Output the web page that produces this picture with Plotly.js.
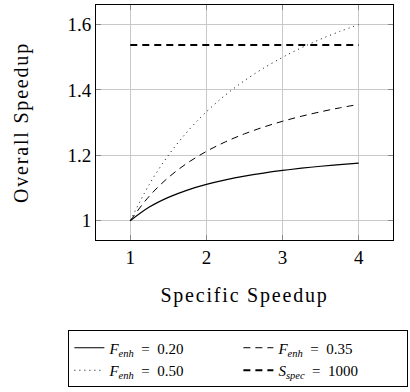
<!DOCTYPE html>
<html><head><meta charset="utf-8">
<script src="https://cdn.plot.ly/plotly-3.0.1.min.js"></script>
<style>html,body{margin:0;padding:0;background:#fff}#chart{width:410px;height:392px}
#chart .xtitle, #chart .ytitle {letter-spacing: 1.8px}</style>
</head><body><div id="chart"></div>
<script>
const specificSpeedup = [1, 1.25, 1.5, 1.75, 2, 2.25, 2.5, 2.75, 3, 3.25, 3.5, 3.75, 4];
const overallF020 = [1, 1.0417, 1.0714, 1.0938, 1.1111, 1.125, 1.1364, 1.1458, 1.1538, 1.1607, 1.1667, 1.1719, 1.1765];
const overallF035 = [1, 1.0753, 1.1321, 1.1765, 1.2121, 1.2414, 1.2658, 1.2865, 1.3043, 1.3198, 1.3333, 1.3453, 1.3559];
const overallF050 = [1, 1.1111, 1.2, 1.2727, 1.3333, 1.3846, 1.4286, 1.4667, 1.5, 1.5294, 1.5556, 1.5789, 1.6];
const sSpecX = [1, 4];
const sSpecY = [1.5376, 1.5376];
const xTicks = [1, 2, 3, 4];
const yTicks = [1, 1.2, 1.4, 1.6];
const yTickLabels = ['1', '1.2', '1.4', '1.6'];
const seriesNames = [
  '<i>F</i><sub><i>enh</i></sub>\u2002=\u20020.20',
  '<i>F</i><sub><i>enh</i></sub>\u2002=\u20020.35',
  '<i>F</i><sub><i>enh</i></sub>\u2002=\u20020.50',
  '<i>S</i><sub><i>spec</i></sub>\u2002=\u20021000'
];

const F = 'Liberation Serif';
const traces = [
  {x: specificSpeedup, y: overallF020, name: seriesNames[0], mode: 'lines', line: {color: '#000', width: 1.2, shape: 'spline'}},
  {x: specificSpeedup, y: overallF035, name: seriesNames[1], mode: 'lines', line: {color: '#000', width: 1, dash: '7px,5px', shape: 'spline'}},
  {x: specificSpeedup, y: overallF050, name: seriesNames[2], mode: 'lines', line: {color: '#000', width: 1, dash: '1px,4px', shape: 'spline'}},
  {x: sSpecX, y: sSpecY, name: seriesNames[3], mode: 'lines', line: {color: '#000', width: 2.2, dash: '7px,5px'}}
];
const layout = {
  width: 410, height: 392,
  margin: {l: 96, r: 17, t: 5, b: 149},
  paper_bgcolor: '#fff', plot_bgcolor: '#fff',
  font: {family: F, color: '#000', size: 19},
  xaxis: {range: [0.55, 4.45], tickvals: xTicks, ticktext: xTicks.map(String),
    showgrid: true, gridcolor: '#c8c8c8', gridwidth: 1, zeroline: false,
    showline: true, linecolor: '#000', linewidth: 1, mirror: 'ticks',
    ticks: 'inside', ticklen: 5, tickcolor: '#888', tickfont: {family: F, size: 19},
    title: {text: 'Specific Speedup', font: {family: F, size: 20}, standoff: 21}},
  yaxis: {range: [0.941, 1.66], tickvals: yTicks, ticktext: yTickLabels,
    showgrid: true, gridcolor: '#c8c8c8', gridwidth: 1, zeroline: false,
    showline: true, linecolor: '#000', linewidth: 1, mirror: 'ticks',
    ticks: 'inside', ticklen: 5, tickcolor: '#888', tickfont: {family: F, size: 19},
    title: {text: 'Overall Speedup', font: {family: F, size: 20}, standoff: 33}},
  showlegend: true,
  legend: {orientation: 'h', x: -0.093, xanchor: 'left', y: -0.385, yanchor: 'top',
    bordercolor: '#000', borderwidth: 1, bgcolor: '#fff',
    font: {family: F, size: 15}, entrywidth: 124, entrywidthmode: 'pixels',
    itemwidth: 30, tracegroupgap: 0}
};
Plotly.newPlot('chart', traces, layout, {displayModeBar: false, staticPlot: true});
</script></body></html>
